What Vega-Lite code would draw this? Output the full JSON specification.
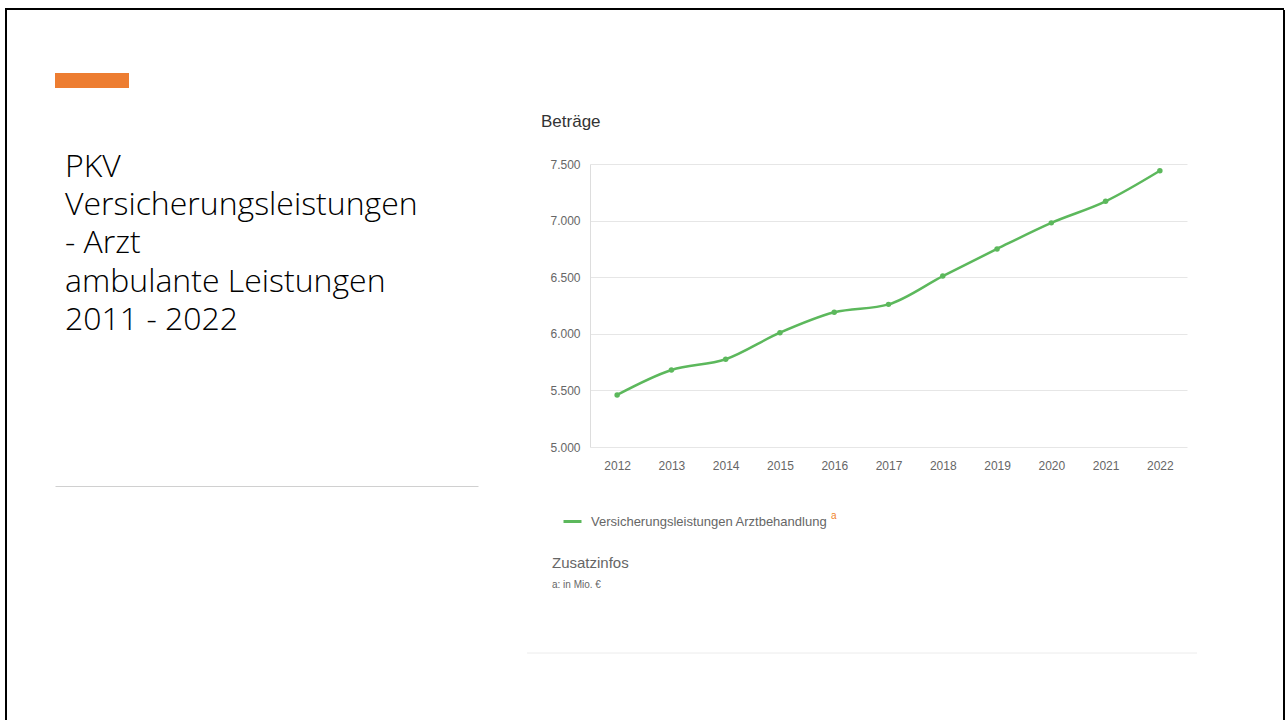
{
  "$schema": "https://vega.github.io/schema/vega-lite/v6.json",
  "background": "white",
  "padding": {"left": 5, "top": 8, "right": 0, "bottom": 0},
  "config": {"view": {"stroke": null}, "font": "Liberation Sans"},
  "spacing": 0,
  "resolve": {"legend": {"color": "independent"}},
  "vconcat": [
    {
      "width": 1279, "height": 2,
      "view": {"fill": "#000000", "stroke": null},
      "data": {"values": []},
      "mark": "point"
    },
    {
      "spacing": 48,
      "resolve": {"legend": {"color": "independent"}},
      "hconcat": [
        {
          "width": 2, "height": 712,
          "view": {"fill": "#000000", "stroke": null},
          "data": {"values": []},
          "mark": "point"
        },
        {
          "spacing": 62,
          "vconcat": [
            {"width": 423, "height": 1, "data": {"values": []}, "mark": "point"},
            {
              "width": 74, "height": 15,
              "view": {"fill": "#ED7D31", "stroke": null},
              "data": {"values": []},
              "mark": "point"
            },
            {
              "width": 423, "height": 141,
              "data": {"values": []},
              "mark": "point",
              "title": {
                "text": ["PKV", "Versicherungsleistungen", "- Arzt", "ambulante Leistungen", "2011 - 2022"],
                "anchor": "start", "frame": "group", "dx": 10, "dy": 2,
                "font": "Open Sans", "fontSize": 32, "fontWeight": 300, "lineHeight": 38.3,
                "color": "#000000", "offset": 10
              },
              "encoding": {
                "x": {"field": "v", "type": "quantitative", "scale": {"domain": [0, 1]},
                      "axis": {"labels": false, "ticks": false, "grid": false, "title": null, "domainColor": "#d0d0d0", "domainWidth": 1}}
              }
            }
          ]
        },
        {
          "spacing": 27,
          "resolve": {"legend": {"color": "independent"}},
          "vconcat": [
            {
              "width": 645, "height": 76,
              "data": {"values": []},
              "mark": "point"
            },
            {
              "width": 597, "height": 283,
              "title": {"text": "Beträge", "anchor": "start", "frame": "group", "dx": -49, "fontSize": 17, "fontWeight": "normal", "color": "#333333", "offset": 27},
              "data": {"values": [
                {"Jahr": "2012", "Betrag": 5460, "Serie": "Versicherungsleistungen Arztbehandlung"},
                {"Jahr": "2013", "Betrag": 5680, "Serie": "Versicherungsleistungen Arztbehandlung"},
                {"Jahr": "2014", "Betrag": 5775, "Serie": "Versicherungsleistungen Arztbehandlung"},
                {"Jahr": "2015", "Betrag": 6010, "Serie": "Versicherungsleistungen Arztbehandlung"},
                {"Jahr": "2016", "Betrag": 6190, "Serie": "Versicherungsleistungen Arztbehandlung"},
                {"Jahr": "2017", "Betrag": 6260, "Serie": "Versicherungsleistungen Arztbehandlung"},
                {"Jahr": "2018", "Betrag": 6510, "Serie": "Versicherungsleistungen Arztbehandlung"},
                {"Jahr": "2019", "Betrag": 6750, "Serie": "Versicherungsleistungen Arztbehandlung"},
                {"Jahr": "2020", "Betrag": 6980, "Serie": "Versicherungsleistungen Arztbehandlung"},
                {"Jahr": "2021", "Betrag": 7170, "Serie": "Versicherungsleistungen Arztbehandlung"},
                {"Jahr": "2022", "Betrag": 7440, "Serie": "Versicherungsleistungen Arztbehandlung"}
              ]},
              "encoding": {
                "x": {"field": "Jahr", "type": "ordinal", "scale": {"type": "point", "padding": 0.5},
                      "axis": {"title": null, "labelAngle": 0, "ticks": false, "domain": false, "grid": false, "labelColor": "#666666", "labelFontSize": 12, "labelPadding": 13}},
                "y": {"field": "Betrag", "type": "quantitative", "scale": {"domain": [5000, 7500], "nice": false, "zero": false},
                      "axis": {"title": null, "values": [5000, 5500, 6000, 6500, 7000, 7500],
                               "labelExpr": "replace(format(datum.value, ','), ',', '.')",
                               "ticks": false, "domain": true, "domainColor": "#dddddd", "gridColor": "#e6e6e6",
                               "labelColor": "#666666", "labelFontSize": 12, "labelPadding": 10}},
                "color": {"field": "Serie", "type": "nominal", "scale": {"range": ["#5cb85c"]},
                          "legend": {"orient": "none", "legendX": -28, "legendY": 347, "symbolType": "stroke", "symbolStrokeWidth": 3, "symbolSize": 324,
                                     "labelFontSize": 13, "labelOffset": 8, "labelColor": "#666666", "labelLimit": 500, "title": "a", "titleOrient": "right", "titleColor": "#f0842c",
                                     "titleFontSize": 10, "titleFontWeight": "normal", "titlePadding": 4, "titleAnchor": "start", "titleBaseline": "top"}}
              },
              "layer": [
                {"mark": {"type": "line", "interpolate": "monotone", "strokeWidth": 2.5}},
                {"mark": {"type": "point", "filled": true, "size": 30, "opacity": 1}}
              ]
            },
            {
              "width": 597, "height": 53,
              "title": {"text": "Zusatzinfos", "subtitle": "a: in Mio. €", "anchor": "start", "frame": "group", "dx": -38,
                        "fontSize": 15, "fontWeight": "normal", "color": "#666666", "subtitleFontSize": 10, "subtitleColor": "#666666",
                        "subtitlePadding": 9, "offset": 10},
              "data": {"values": [{"Linie": "Trenner"}]},
              "mark": {"type": "rule", "color": "#ececec", "strokeWidth": 1},
              "encoding": {
                "x": {"datum": -0.1055, "type": "quantitative", "scale": {"domain": [0, 1]}, "axis": null},
                "x2": {"datum": 1.0168},
                "y": {"datum": 0, "type": "quantitative", "scale": {"domain": [0, 1]}, "axis": null}
              }
            }
          ]
        },
        {
          "width": 2, "height": 712,
          "view": {"fill": "#000000", "stroke": null},
          "data": {"values": []},
          "mark": "point"
        }
      ]
    }
  ]
}
